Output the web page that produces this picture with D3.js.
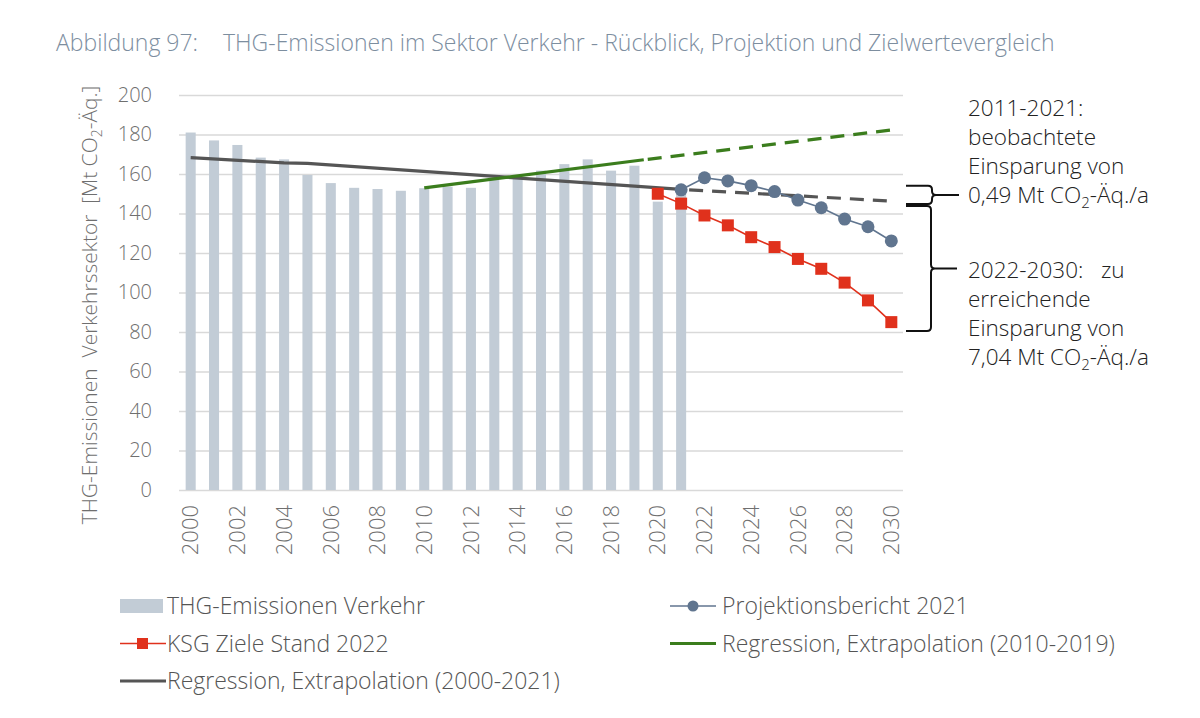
<!DOCTYPE html>
<html>
<head>
    <meta charset="utf-8">
    <title>THG-Emissionen Verkehr</title>
    <style>
        body { margin: 0; background: #fff; }
        svg text { font-family: "Open Sans", "DejaVu Sans", sans-serif; font-weight: 300; }
    </style>
    <script src="https://cdnjs.cloudflare.com/ajax/libs/d3/7.8.5/d3.min.js"></script>
</head>
<body>
    <script>
        // observed emissions (Mt CO2-eq), 2000-2021
        const barYears = d3.range(2000, 2022)
        const barValues = [181, 177, 174.7, 168.3, 167.4, 159.5, 155.4, 153, 152.4, 151.5, 152.8,
                           153.6, 153, 157, 158.6, 161.7, 165, 167.4, 161.7, 164.2, 146, 150]

        // Projektionsbericht 2021
        const projYears = d3.range(2021, 2031)
        const projValues = [152, 158.1, 156.5, 154.1, 151.1, 146.8, 142.9, 137.2, 133.3, 126.1]

        // KSG Ziele Stand 2022
        const ksgYears = d3.range(2020, 2031)
        const ksgValues = [150, 145, 139, 134, 128, 123, 117, 112, 105, 96, 85]

        // regression lines [year, value]
        const greySolid = [[2000, 168.3], [2004, 165.6], [2005, 165.4], [2021, 152.2]]
        const greyDashed = [[2021, 152.2], [2030, 146.3]]
        const greenSolid = [[2010, 153], [2019.4, 167.2]]
        const greenDashed = [[2019.4, 167.2], [2030, 182.3]]

        const yTicks = d3.range(0, 201, 20)
        const xTicks = d3.range(2000, 2031, 2)

        const allYears = d3.range(2000, 2031)

        const width = 1200
        const height = 718
        const plotLeft = 179
        const plotRight = 903
        const plotTop = 95
        const plotBottom = 490

        const c_bar = "#c2ccd6"
        const c_proj = "#60758f"
        const c_ksg = "#e0311c"
        const c_green = "#3b7d1d"
        const c_grey = "#555555"
        const c_text = "#6f6f6f"

        let svg = d3.select("body").append("svg")
            .attr("width", width)
            .attr("height", height)

        let x = d3.scaleBand()
            .domain(allYears)
            .range([plotLeft, plotRight])
            .paddingInner(0.57)
            .paddingOuter(0.285)
        let xc = d3.scaleLinear()
            .domain([2000, 2030])
            .range([x(2000) + x.bandwidth() / 2, x(2030) + x.bandwidth() / 2])
        let y = d3.scaleLinear()
            .domain([0, 200])
            .range([plotBottom, plotTop])

        // title
        svg.append("text")
            .attr("x", 56).attr("y", 51)
            .attr("fill", "#7d8e9f")
            .style("font-size", "23px")
            .text("Abbildung 97:")
        svg.append("text")
            .attr("x", 223).attr("y", 51)
            .attr("fill", "#7d8e9f")
            .style("font-size", "23px")
            .text("THG-Emissionen im Sektor Verkehr - Rückblick, Projektion und Zielwertevergleich")

        // gridlines
        let grid = svg.append("g")
            .attr("transform", `translate(${plotLeft}, 0)`)
            .call(d3.axisLeft(y).tickValues(yTicks).tickSize(-(plotRight - plotLeft)).tickFormat(""))
        grid.select(".domain").remove()
        grid.selectAll("line").attr("stroke", "#d9d9d9").attr("stroke-width", 1.5)

        // y axis labels
        let yAxis = svg.append("g")
            .attr("transform", `translate(${plotLeft}, 0)`)
            .call(d3.axisLeft(y).tickValues(yTicks).tickSize(0).tickPadding(27))
        yAxis.select(".domain").remove()
        yAxis.selectAll("text")
            .attr("fill", c_text)
            .style("font-size", "20px")
            .style("font-family", "'Open Sans', sans-serif")

        // x axis labels
        let xAxis = svg.append("g")
            .attr("transform", `translate(0, ${plotBottom})`)
            .call(d3.axisBottom(x).tickValues(xTicks).tickSize(0).tickPadding(0))
        xAxis.select(".domain").remove()
        xAxis.selectAll("text")
            .attr("fill", c_text)
            .style("font-size", "22px")
            .style("font-family", "'Open Sans', sans-serif")
            .attr("text-anchor", "end")
            .attr("transform", "rotate(-90)")
            .attr("x", -15)
            .attr("y", 0)
            .attr("dy", "0.35em")

        // y axis title
        let ytitle = svg.append("text")
            .attr("transform", `translate(97, 305) rotate(-90)`)
            .attr("text-anchor", "middle")
            .attr("fill", c_text)
            .style("font-size", "21px")
        ytitle.append("tspan").text("THG-Emissionen\u00a0 Verkehrssektor\u00a0 [Mt CO")
        ytitle.append("tspan").attr("dy", 5).style("font-size", "14px").text("2")
        ytitle.append("tspan").attr("dy", -5).text("-Äq.]")

        // bars
        svg.selectAll(".bar")
            .data(d3.zip(barYears, barValues))
            .enter()
            .append("rect")
                .attr("class", "bar")
                .attr("x", d => x(d[0]))
                .attr("y", d => y(d[1]))
                .attr("width", x.bandwidth())
                .attr("height", d => y(0) - y(d[1]))
                .attr("fill", c_bar)

        let line = d3.line().x(d => xc(d[0])).y(d => y(d[1]))

        // regression lines
        svg.append("path").attr("d", line(greySolid))
            .attr("fill", "none").attr("stroke", c_grey).attr("stroke-width", 3.2)
        svg.append("path").attr("d", line(greyDashed))
            .attr("fill", "none").attr("stroke", c_grey).attr("stroke-width", 3.2)
            .attr("stroke-dasharray", "14 9").attr("stroke-dashoffset", -8)
        svg.append("path").attr("d", line(greenSolid))
            .attr("fill", "none").attr("stroke", c_green).attr("stroke-width", 3.2)
        svg.append("path").attr("d", line(greenDashed))
            .attr("fill", "none").attr("stroke", c_green).attr("stroke-width", 3.2)
            .attr("stroke-dasharray", "14 9").attr("stroke-dashoffset", -4)

        // KSG
        let ksg = d3.zip(ksgYears, ksgValues)
        svg.append("path").attr("d", line(ksg))
            .attr("fill", "none").attr("stroke", c_ksg).attr("stroke-width", 1.6)
        svg.selectAll(".ksg")
            .data(ksg)
            .enter()
            .append("rect")
                .attr("class", "ksg")
                .attr("x", d => xc(d[0]) - 6)
                .attr("y", d => y(d[1]) - 6)
                .attr("width", 12)
                .attr("height", 12)
                .attr("fill", c_ksg)

        // Projektionsbericht
        let proj = d3.zip(projYears, projValues)
        svg.append("path").attr("d", line(proj))
            .attr("fill", "none").attr("stroke", c_proj).attr("stroke-width", 1.6)
        svg.selectAll(".proj")
            .data(proj)
            .enter()
            .append("circle")
                .attr("class", "proj")
                .attr("cx", d => xc(d[0]))
                .attr("cy", d => y(d[1]))
                .attr("r", 6.5)
                .attr("fill", c_proj)

        // braces
        function brace(v0, v1, x0, x1, tip) {
            let y0 = y(v0), y1 = y(v1), ym = (y0 + y1) / 2
            let xm = x1
            let p = d3.path()
            p.moveTo(x0, y0)
            p.lineTo(xm - 4, y0)
            p.quadraticCurveTo(xm, y0, xm, y0 + 4)
            p.lineTo(xm, ym - 4)
            p.quadraticCurveTo(xm, ym, xm + 4, ym)
            p.quadraticCurveTo(xm, ym, xm, ym + 4)
            p.lineTo(xm, y1 - 4)
            p.quadraticCurveTo(xm, y1, xm - 4, y1)
            p.lineTo(x0, y1)
            p.moveTo(xm + 4, ym)
            p.lineTo(tip, ym)
            svg.append("path").attr("d", p.toString())
                .attr("fill", "none").attr("stroke", "#111").attr("stroke-width", 2)
        }
        brace(154, 144.8, 906, 932, 959)
        brace(143.8, 80.5, 906, 931, 957)

        // annotation texts
        const note1 = ["2011-2021:", "beobachtete", "Einsparung von", "0,49 Mt CO|2|-Äq./a"]
        const note2 = ["2022-2030:\u00a0\u00a0 zu", "erreichende", "Einsparung von", "7,04 Mt CO|2|-Äq./a"]
        function note(lines, y0) {
            lines.forEach((s, i) => {
                let t = svg.append("text")
                    .attr("x", 968).attr("y", y0 + i * 29)
                    .attr("fill", "#222")
                    .style("font-size", "22.5px")
                let parts = s.split("|")
                t.append("tspan").text(parts[0])
                if (parts.length > 1) {
                    t.append("tspan").attr("dy", 5).style("font-size", "15px").text(parts[1])
                    t.append("tspan").attr("dy", -5).text(parts[2])
                }
            })
        }
        note(note1, 116)
        note(note2, 278)

        // legend
        const legendItems = [
            {name: "THG-Emissionen Verkehr", kind: "bar", color: c_bar, col: 0, row: 0},
            {name: "Projektionsbericht 2021", kind: "circle", color: c_proj, col: 1, row: 0},
            {name: "KSG Ziele Stand 2022", kind: "square", color: c_ksg, col: 0, row: 1},
            {name: "Regression, Extrapolation (2010-2019)", kind: "line", color: c_green, col: 1, row: 1},
            {name: "Regression, Extrapolation (2000-2021)", kind: "line", color: c_grey, col: 0, row: 2}
        ]
        let lg = svg.selectAll(".legend")
            .data(legendItems)
            .enter()
            .append("g")
                .attr("class", "legend")
                .attr("transform", d => `translate(${d.col ? 670 : 120}, ${606 + d.row * 37.5})`)
        lg.filter(d => d.kind == "bar").append("rect")
            .attr("x", 0).attr("y", -7).attr("width", 43).attr("height", 14).attr("fill", d => d.color)
        lg.filter(d => d.kind != "bar").append("line")
            .attr("x1", 0).attr("x2", 46).attr("y1", 0).attr("y2", 0)
            .attr("stroke", d => d.color)
            .attr("stroke-width", d => d.kind == "line" ? 3.2 : 1.6)
        lg.filter(d => d.kind == "circle").append("circle")
            .attr("cx", 23).attr("cy", 0).attr("r", 5.5).attr("fill", d => d.color)
        lg.filter(d => d.kind == "square").append("rect")
            .attr("x", 17).attr("y", -5.5).attr("width", 11).attr("height", 11).attr("fill", d => d.color)
        lg.append("text")
            .attr("x", d => d.col ? 52 : 47).attr("y", 0).attr("dy", "0.35em")
            .attr("fill", "#555")
            .style("font-size", "23px")
            .text(d => d.name)
    </script>
</body>
</html>
